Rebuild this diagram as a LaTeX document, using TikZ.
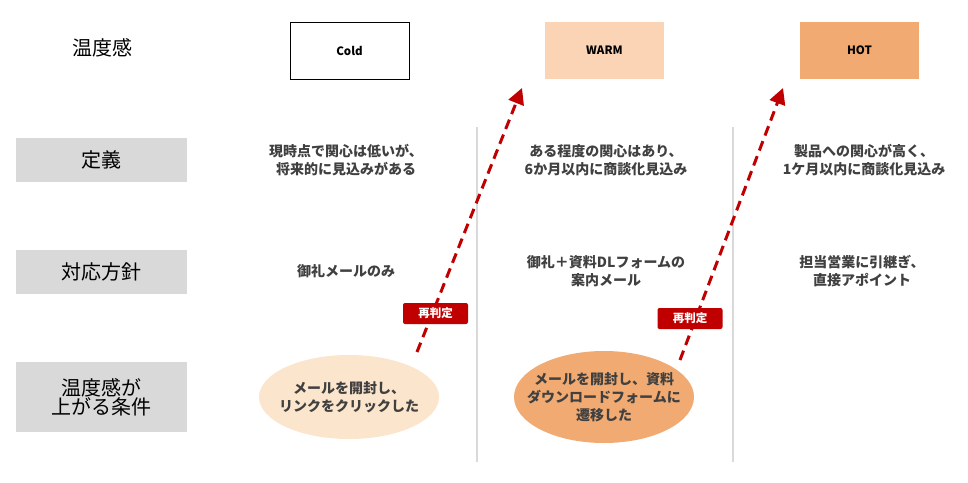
\documentclass[tikz,border=0pt]{standalone}
\usepackage{fontspec}
\setmainfont{Noto Sans CJK JP}
\usepackage{xcolor}
\definecolor{pale-gray}{HTML}{D9D9D9}
\definecolor{warm-fill}{HTML}{FAD4B4}
\definecolor{hot-fill}{HTML}{F0AA72}
\definecolor{cond-fill}{HTML}{FBE5CD}
\definecolor{text-gray}{HTML}{404040}
\definecolor{deep-red}{HTML}{C00000}
\usetikzlibrary{arrows.meta}
\usetikzlibrary{shapes.geometric}
\tikzset{level/.style = {minimum width=119pt, minimum height=57pt, font=\fontsize{11.5}{14}\selectfont\bfseries}}
\tikzset{rowlabel/.style = {fill=pale-gray, minimum width=171pt, align=center, font=\fontsize{20}{23}\selectfont}}
\tikzset{cell/.style = {align=center, text=text-gray, font=\fontsize{14}{18}\selectfont\bfseries}}
\tikzset{tag/.style = {fill=deep-red, text=white, rounded corners=2pt, minimum width=65pt, minimum height=21pt, inner sep=0pt, font=\fontsize{11.5}{13}\selectfont\bfseries}}
\tikzset{arr/.style = {deep-red, line width=3pt, dash pattern=on 10pt off 6pt, -{Triangle[length=16pt,width=16pt]}}}

\begin{document}
\begin{tikzpicture}[x=1pt, y=-1pt]
\useasboundingbox (0,0) rectangle (968,482);

\node[font=\fontsize{20}{23}\selectfont] (t0) at (102,48) {温度感};
\node[level, draw=black] (cold) at (349.5,50.5) {Cold};
\node[level, fill=warm-fill] (warm) at (604.5,50.5) {WARM};
\node[level, fill=hot-fill] (hot) at (859.5,50.5) {HOT};

\node[rowlabel, minimum height=44pt] (r1) at (101.5,159.5) {定義};
\node[rowlabel, minimum height=44pt] (r2) at (101.5,272) {対応方針};
\node[rowlabel, minimum height=70pt] (r3) at (101.5,397) {温度感が\\[-4pt]上がる条件};

\draw[pale-gray, line width=2pt] (477,127) -- (477,462);
\draw[pale-gray, line width=2pt] (733,127) -- (733,462);

\node[cell] (d1) at (346,160) {現時点で関心は低いが、\\将来的に見込みがある};
\node[cell] (d2) at (606,160) {ある程度の関心はあり、\\6か月以内に商談化見込み};
\node[cell] (d3) at (864,160) {製品への関心が高く、\\1ケ月以内に商談化見込み};

\node[cell] (p1) at (346,271) {御礼メールのみ};
\node[cell] (p2) at (606,271) {御礼＋資料DLフォームの\\案内メール};
\node[cell] (p3) at (862,271) {担当営業に引継ぎ、\\直接アポイント};

\node[cell, ellipse, fill=cond-fill, minimum width=180pt, minimum height=84pt, inner sep=-20pt] (c1) at (349,397) {メールを開封し、\\リンクをクリックした};
\node[cell, ellipse, fill=hot-fill, minimum width=180pt, minimum height=92pt, inner sep=-20pt] (c2) at (604,397) {メールを開封し、資料\\ダウンロードフォームに\\遷移した};

\coordinate (a1) at (417,352);
\coordinate (b1) at (522,88);
\coordinate (a2) at (680,360);
\coordinate (b2) at (783,88);
\draw[arr] (a1) -- (b1);
\draw[arr] (a2) -- (b2);

\node[tag] (g1) at (435.5,313.5) {再判定};
\node[tag] (g2) at (690,318.5) {再判定};

\end{tikzpicture}
\end{document}
